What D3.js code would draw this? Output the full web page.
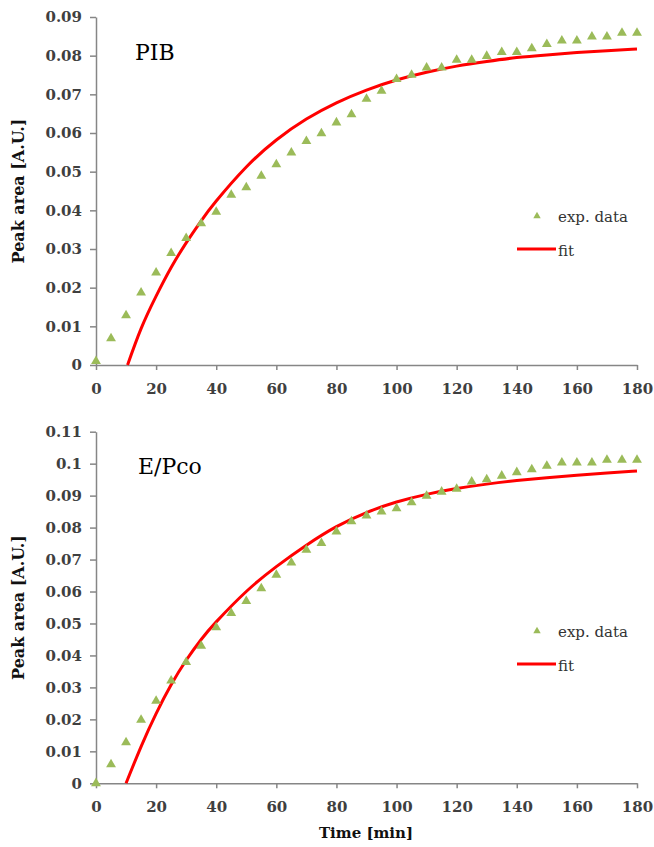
<!DOCTYPE html>
<html>
<head>
<meta charset="utf-8">
<script src="https://cdn.jsdelivr.net/npm/d3@7"></script>
<style>
  body { margin: 0; background: #fff; }
</style>
</head>
<body>
<div id="chart"></div>
<script>
// Sampling times (min)
var times = [0, 5, 10, 15, 20, 25, 30, 35, 40, 45, 50, 55, 60, 65, 70, 75, 80, 85, 90,
  95, 100, 105, 110, 115, 120, 125, 130, 135, 140, 145, 150, 155, 160, 165, 170, 175, 180]

// exp. data
var pibData = [0.001, 0.0069, 0.0128, 0.0187, 0.0239, 0.0289, 0.0328, 0.0366, 0.0396, 0.0440,
  0.0459, 0.0489, 0.0519, 0.0549, 0.0579, 0.0599, 0.0627, 0.0648, 0.0688, 0.0709, 0.0739,
  0.0750, 0.0769, 0.0769, 0.0789, 0.0789, 0.0799, 0.0809, 0.0809, 0.0819, 0.0830, 0.0839,
  0.0839, 0.0849, 0.0849, 0.0859, 0.0859]
var epcoData = [0, 0.0059, 0.0128, 0.0198, 0.0258, 0.0321, 0.0379, 0.0430, 0.0488, 0.0532,
  0.0570, 0.0610, 0.0652, 0.0690, 0.0730, 0.0751, 0.0787, 0.0819, 0.0837, 0.0850, 0.0860,
  0.0879, 0.0899, 0.0912, 0.0921, 0.0944, 0.0951, 0.0962, 0.0973, 0.0982, 0.0993, 0.1003,
  0.1003, 0.1003, 0.1012, 0.1012, 0.1012]

// fit curves, read at a few times
var pibFitTimes = [10.5, 15, 20, 25, 30, 35, 40, 50, 60, 70, 80, 90, 100, 110, 120, 130, 140, 150, 160, 170, 180]
var pibFitValues = [0, 0.0094, 0.0178, 0.0252, 0.0316, 0.0373, 0.0424, 0.0512, 0.0582, 0.0636,
  0.0678, 0.0711, 0.0737, 0.0757, 0.0773, 0.0785, 0.0795, 0.0802, 0.0808, 0.0813, 0.0817]
var epcoFitTimes = [10, 15, 20, 25, 30, 35, 40, 50, 60, 70, 80, 90, 100, 110, 120, 130, 140, 150, 160, 170, 180]
var epcoFitValues = [0, 0.0115, 0.0218, 0.0308, 0.0385, 0.0450, 0.0505, 0.0600, 0.0678, 0.0745,
  0.0803, 0.0847, 0.0880, 0.0904, 0.0922, 0.0936, 0.0947, 0.0956, 0.0964, 0.0971, 0.0977]

// ticks
var xTicks = [0, 20, 40, 60, 80, 100, 120, 140, 160, 180]
var pibYTicks = [0, 0.01, 0.02, 0.03, 0.04, 0.05, 0.06, 0.07, 0.08, 0.09]
var pibYLabels = ['0', '0.01', '0.02', '0.03', '0.04', '0.05', '0.06', '0.07', '0.08', '0.09']
var epcoYTicks = [0, 0.01, 0.02, 0.03, 0.04, 0.05, 0.06, 0.07, 0.08, 0.09, 0.1, 0.11]
var epcoYLabels = ['0', '0.01', '0.02', '0.03', '0.04', '0.05', '0.06', '0.07', '0.08', '0.09', '0.1', '0.11']

var width = 654
var height = 847
var plotLeft = 96
var plotRight = 637
var axisColor = '#868686'
var labelColor = '#3f3f3f'
var green = '#9bbb59'
var red = '#f00'
var serif = 'DejaVu Serif, serif'

var svg = d3
  .select('#chart')
  .append('svg')
  .attr('width', width)
  .attr('height', height)

var xPositionScale = d3.scaleLinear().domain([0, 180]).range([plotLeft, plotRight])
var triangle = d3.symbol().type(d3.symbolTriangle)

function drawPanel(opts) {
  var yPositionScale = d3
    .scaleLinear()
    .domain([0, opts.yMax])
    .range([opts.bottom, opts.top])

  var g = svg.append('g')

  // x axis
  var xAxis = d3
    .axisBottom(xPositionScale)
    .tickValues(xTicks)
    .tickSize(5)
    .tickSizeOuter(0)
    .tickPadding(13)
  g.append('g')
    .attr('class', 'x-axis')
    .attr('transform', `translate(0,${opts.bottom})`)
    .call(xAxis)

  // y axis
  var yAxis = d3
    .axisLeft(yPositionScale)
    .tickValues(opts.yTicks)
    .tickFormat((d, i) => opts.yLabels[i])
    .tickSize(6)
    .tickSizeOuter(0)
    .tickPadding(8)
  g.append('g')
    .attr('class', 'y-axis')
    .attr('transform', `translate(${plotLeft},0)`)
    .call(yAxis)

  g.selectAll('.domain, .tick line')
    .attr('stroke', axisColor)
    .attr('stroke-width', 1.5)
  g.selectAll('.tick text')
    .attr('fill', labelColor)
    .attr('font-family', serif)
    .attr('font-weight', 'bold')
    .attr('font-size', 15)

  // y label
  g.append('text')
    .text('Peak area [A.U.]')
    .attr('transform', `translate(24,${(opts.top + opts.bottom) / 2}) rotate(-90)`)
    .attr('text-anchor', 'middle')
    .attr('font-family', serif)
    .attr('font-weight', 'bold')
    .attr('font-size', 16)
    .attr('fill', '#111')

  // panel name
  g.append('text')
    .text(opts.name)
    .attr('x', opts.nameX)
    .attr('y', opts.nameY)
    .attr('font-family', serif)
    .attr('font-size', 22)
    .attr('fill', '#000')

  // fit line
  var line = d3
    .line()
    .x(d => xPositionScale(d[0]))
    .y(d => yPositionScale(d[1]))
    .curve(d3.curveNatural)
  g.append('path')
    .datum(d3.zip(opts.fitTimes, opts.fitValues))
    .attr('d', line)
    .attr('fill', 'none')
    .attr('stroke', red)
    .attr('stroke-width', 3)

  // exp. data triangles
  g.append('g')
    .selectAll('path')
    .data(d3.zip(times, opts.data))
    .enter()
    .append('path')
    .attr('d', triangle.size(42))
    .attr('transform', d => `translate(${xPositionScale(d[0])},${yPositionScale(d[1])})`)
    .attr('fill', green)

  // legend
  var legend = g.append('g').attr('transform', `translate(0,${opts.legendY})`)
  legend.append('path')
    .attr('d', triangle.size(24))
    .attr('transform', 'translate(537,0)')
    .attr('fill', green)
  legend.append('text')
    .text('exp. data')
    .attr('x', 558)
    .attr('y', 6)
    .attr('font-family', serif)
    .attr('font-size', 15)
    .attr('fill', '#333')
  legend.append('line')
    .attr('x1', 517)
    .attr('x2', 556)
    .attr('y1', opts.legendGap)
    .attr('y2', opts.legendGap)
    .attr('stroke', red)
    .attr('stroke-width', 3)
  legend.append('text')
    .text('fit')
    .attr('x', 558)
    .attr('y', opts.legendGap + 7)
    .attr('font-family', serif)
    .attr('font-size', 15)
    .attr('fill', '#333')
}

drawPanel({
  name: 'PIB',
  nameX: 135,
  nameY: 60,
  data: pibData,
  fitTimes: pibFitTimes,
  fitValues: pibFitValues,
  yMax: 0.09,
  yTicks: pibYTicks,
  yLabels: pibYLabels,
  top: 17,
  bottom: 365,
  legendY: 216,
  legendGap: 33
})

drawPanel({
  name: 'E/Pco',
  nameX: 138,
  nameY: 474,
  data: epcoData,
  fitTimes: epcoFitTimes,
  fitValues: epcoFitValues,
  yMax: 0.11,
  yTicks: epcoYTicks,
  yLabels: epcoYLabels,
  top: 431.7,
  bottom: 783.3,
  legendY: 631,
  legendGap: 33
})

// x axis title
svg.append('text')
  .text('Time [min]')
  .attr('x', 366)
  .attr('y', 838)
  .attr('text-anchor', 'middle')
  .attr('font-family', serif)
  .attr('font-weight', 'bold')
  .attr('font-size', 15)
  .attr('fill', '#111')
</script>
</body>
</html>
